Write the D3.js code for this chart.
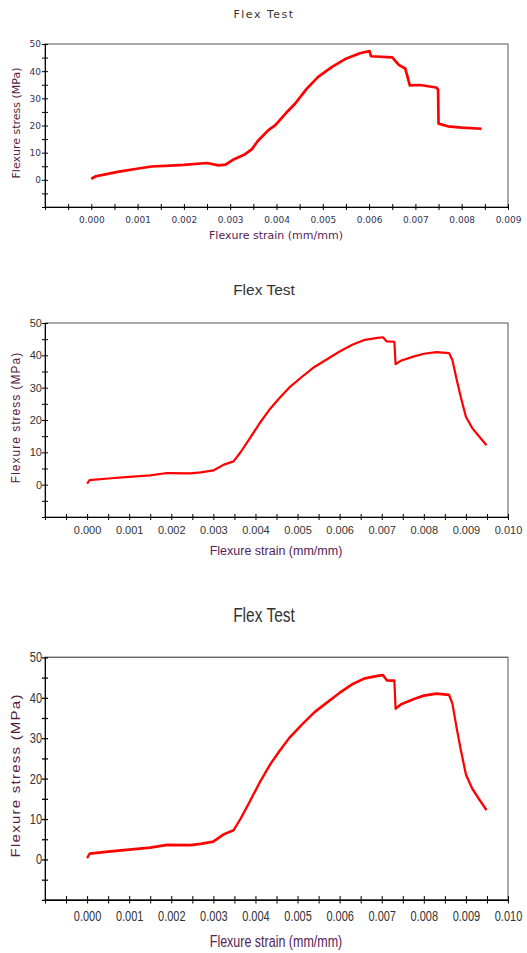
<!DOCTYPE html>
<html lang="en">
<head>
<meta charset="UTF-8">
<title>Flex Test</title>
<script src="https://d3js.org/d3.v7.min.js"></script>
<style>
  body { margin: 0; background: #fff; }
</style>
</head>
<body>
<svg id="chart"></svg>
<script>
// run 1 (top chart)
const strain1 = [0, 0.00003, 0.0001, 0.0003, 0.0006, 0.00095, 0.0013, 0.0017, 0.002, 0.0025, 0.00275, 0.0029,
  0.00305, 0.0033, 0.00347, 0.0036, 0.00382, 0.00398, 0.0042, 0.0044, 0.00465, 0.0049, 0.0052, 0.0055,
  0.0058, 0.00601, 0.00604, 0.0065, 0.00664, 0.00678, 0.00688, 0.0071, 0.00745, 0.00749, 0.0075, 0.0077,
  0.008, 0.00843];
const stress1 = [0.3, 0.7, 1.3, 2.0, 3.0, 4.0, 4.9, 5.2, 5.5, 6.2, 5.3, 5.6,
  7.3, 9.2, 11.3, 14.4, 18.2, 20.2, 24.5, 28.0, 33.5, 37.9, 41.6, 44.6,
  46.6, 47.4, 45.5, 45.1, 42.3, 41.0, 34.8, 34.9, 34.0, 33.2, 20.7, 19.7,
  19.2, 18.8];

// run 2 (middle chart, bottom chart is the same run drawn taller)
const strain2 = [0, 0.00006, 0.0005, 0.001, 0.0015, 0.0019, 0.00245, 0.0027, 0.003, 0.00325, 0.00348, 0.00365,
  0.00385, 0.0041, 0.00435, 0.00455, 0.0048, 0.0051, 0.0054, 0.0057, 0.006, 0.0063, 0.0066, 0.0069,
  0.00703, 0.00712, 0.0073, 0.00733, 0.00745, 0.00775, 0.008, 0.0083, 0.0086, 0.00868, 0.00878, 0.00888,
  0.009, 0.00915, 0.00932, 0.00949];
const stress2 = [0.3, 1.4, 1.9, 2.4, 2.9, 3.6, 3.5, 3.8, 4.4, 6.2, 7.2, 10.1,
  14.0, 19.0, 23.5, 26.5, 30.0, 33.3, 36.4, 38.8, 41.2, 43.3, 44.8, 45.4,
  45.6, 44.3, 44.2, 37.3, 38.3, 39.6, 40.5, 41.0, 40.7, 38.5, 32.5, 27.0,
  21.0, 17.5, 14.8, 12.2];

const yTicks = [-10, -5, 0, 5, 10, 15, 20, 25, 30, 35, 40, 45, 50];
const yLabels = [0, 10, 20, 30, 40, 50];
const xTicks1 = d3.range(-2, 19).map(i => i / 2000);
const xTicks2 = d3.range(-2, 21).map(i => i / 2000);
const xLabels1 = ['0.000', '0.001', '0.002', '0.003', '0.004', '0.005', '0.006', '0.007', '0.008', '0.009'];
const xLabels2 = ['0.000', '0.001', '0.002', '0.003', '0.004', '0.005', '0.006', '0.007', '0.008', '0.009', '0.010'];

const svg = d3.select('#chart').attr('width', 527).attr('height', 953);
svg.append('rect').attr('width', 527).attr('height', 953).attr('fill', '#fff');

function drawChart(g, c) {
  const x = d3.scaleLinear().domain([-0.001, c.xMax]).range([45, 508]);
  const y = d3.scaleLinear().domain([-10, 50]).range([c.bottom, c.top]);

  // frame
  g.append('rect')
    .attr('x', 45).attr('y', c.top)
    .attr('width', 463).attr('height', c.bottom - c.top)
    .attr('fill', 'none').attr('stroke', '#555');

  const fmtX = d3.format('.3f');

  const yAxis = g.append('g')
    .attr('transform', 'translate(45,0)')
    .call(d3.axisLeft(y).tickValues(yTicks).tickSize(3).tickSizeOuter(0).tickPadding(c.yPad)
      .tickFormat(d => yLabels.includes(d) ? d : ''));
  yAxis.attr('font-family', c.font).attr('font-size', c.tickFont);
  yAxis.select('.domain').attr('stroke', '#000');
  yAxis.selectAll('.tick line').attr('x1', 3).attr('stroke', '#000');
  yAxis.selectAll('.tick text').attr('fill', c.tickColor);

  const xAxis = g.append('g')
    .attr('transform', `translate(0,${c.bottom})`)
    .call(d3.axisBottom(x).tickValues(c.xTicks).tickSize(3).tickSizeOuter(0)
      .tickFormat(d => c.xLabels.includes(fmtX(d)) && d >= -1e-9 && Math.round(d * 2000) % 2 === 0 ? fmtX(d) : ''));
  xAxis.attr('font-family', c.font).attr('font-size', c.tickFont);
  xAxis.select('.domain').attr('stroke', '#000');
  xAxis.selectAll('.tick line').attr('y1', -3).attr('stroke', '#000');
  xAxis.selectAll('.tick text').attr('y', c.xLabelY).attr('dy', 0).attr('fill', c.tickColor);

  // curve
  const line = d3.line().x(d => x(d[0])).y(d => y(d[1]));
  g.append('path')
    .datum(d3.zip(c.strain, c.stress))
    .attr('d', line)
    .attr('fill', 'none')
    .attr('stroke', '#ff0000')
    .attr('stroke-width', c.lineWidth)
    .attr('stroke-linejoin', 'round');

  // titles
  g.append('text')
    .attr('x', 264).attr('y', c.titleY)
    .attr('text-anchor', 'middle')
    .attr('font-family', c.font).attr('font-size', c.titleFont)
    .attr('letter-spacing', c.titleSpacing)
    .attr('fill', '#333')
    .text('Flex Test');

  g.append('text')
    .attr('x', 276).attr('y', c.xTitleY)
    .attr('text-anchor', 'middle')
    .attr('font-family', c.font).attr('font-size', c.xTitleFont)
    .attr('fill', '#552255')
    .text('Flexure strain (mm/mm)');

  g.append('text')
    .attr('transform', `translate(${c.yTitleX},${c.yTitleY}) rotate(-90)`)
    .attr('text-anchor', 'middle')
    .attr('font-family', c.font).attr('font-size', c.yTitleFont)
    .attr('letter-spacing', c.yTitleSpacing)
    .attr('fill', '#552244')
    .text('Flexure stress (MPa)');
}

// top chart
drawChart(svg.append('g'), {
  strain: strain1, stress: stress1, xMax: 0.009, xTicks: xTicks1, xLabels: xLabels1,
  top: 44, bottom: 207, font: 'DejaVu Sans', tickFont: 9, tickColor: '#333355', yPad: 1,
  xLabelY: 15.5, titleY: 18, titleFont: 11, titleSpacing: 1.5, lineWidth: 2.7,
  xTitleY: 239, xTitleFont: 11, yTitleX: 20, yTitleY: 123, yTitleFont: 11, yTitleSpacing: 0
});

const cfg2 = {
  strain: strain2, stress: stress2, xMax: 0.010, xTicks: xTicks2, xLabels: xLabels2,
  top: 53, bottom: 247, font: 'Liberation Sans', tickFont: 11, tickColor: '#333', yPad: 0,
  xLabelY: 17, titleY: 25, titleFont: 15.5, titleSpacing: 0, lineWidth: 2.2,
  xTitleY: 285, xTitleFont: 12.5, yTitleX: 19.5, yTitleY: 147.5, yTitleFont: 12, yTitleSpacing: 1
};

// middle chart
drawChart(svg.append('g').attr('transform', 'translate(0,270)'), cfg2);

// bottom chart: same chart stretched vertically
drawChart(svg.append('g').attr('transform', 'translate(0,591) scale(1,1.25)'), cfg2);
</script>
</body>
</html>
